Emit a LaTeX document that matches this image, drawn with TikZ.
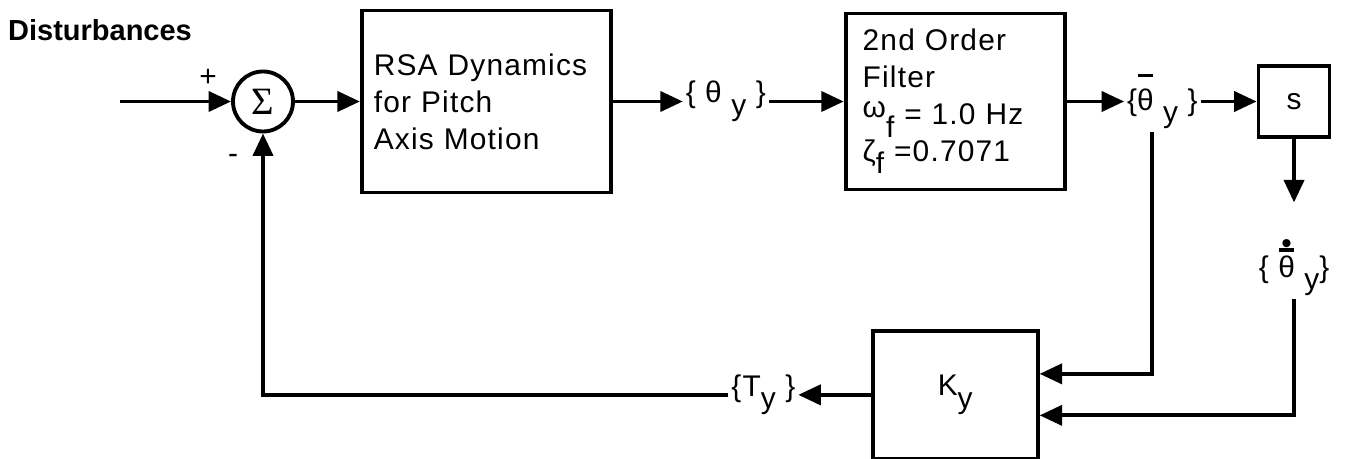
\documentclass[tikz,border=0pt]{standalone}
\usepackage{fontspec}
\setmainfont{Liberation Sans}
\newfontfamily\boxfont{Liberation Sans}[LetterSpace=4]
\newfontfamily\sigmafont{Liberation Serif}
\usepackage{tikz}
\usetikzlibrary{positioning,arrows.meta}
\newcommand{\dfont}{\boxfont\fontsize{17}{21}\selectfont}
\newcommand{\lowered}[1]{\raisebox{-0.42em}{#1}}
\newcommand{\thbar}{\rlap{\hspace{0.04em}\rule[1.1em]{0.5em}{0.11em}}θ}
\newcommand{\thdot}{\rlap{\hspace{0.04em}\rule[0.86em]{0.5em}{0.11em}}\rlap{\hspace{0.1em}\raisebox{0.8em}{\textbullet}}θ}

\begin{document}
\begin{tikzpicture}[
    block/.style={rectangle, draw=black, line width=2.2pt, align=left, font=\dfont},
    lbl/.style={inner sep=1.5pt, font=\dfont},
    sumnode/.style={circle, draw=black, line width=2.2pt, minimum size=1.2cm,
                    inner sep=0pt, font=\sigmafont\fontsize{22}{26}\selectfont},
    arrow/.style={-{Triangle[length=4.5mm, width=4mm]}, line width=2.2pt}
]
    \useasboundingbox (0,0) rectangle (27.12,9.18);

    \node[font=\bfseries\fontsize{16.5}{19}\selectfont] (dist) at (2.0,8.58) {Disturbances};
    \coordinate (in) at (2.4,7.15);
    \node[sumnode] (sum) at (5.26,7.15) {Σ};
    \node[lbl] (plus) at (4.16,7.63) {+};
    \node[lbl] (minus) at (4.66,6.01) {-};

    \node[block, right=1.3cm of sum, minimum width=4.98cm, minimum height=3.64cm,
          text width=4.5cm] (rsa) {RSA Dynamics\\for Pitch\\Axis Motion};
    \node[lbl, right=1.4cm of rsa] (theta) {\{ θ \lowered{y} \}};
    \node[block, right=1.5cm of theta, minimum width=4.38cm, minimum height=3.52cm,
          text width=3.7cm] (filter) {2nd Order\\Filter\\\raisebox{0.25em}{ω}\lowered{f} = 1.0 Hz\\ζ\lowered{f} =0.7071};
    \node[lbl, right=1.15cm of filter] (thetabar) {\{\thbar\ \lowered{y} \}};
    \node[block, align=center, right=1.12cm of thetabar, minimum size=1.42cm,
          inner sep=0pt] (sbox) {s};
    \node[lbl, below=1.95cm of sbox] (thetadot) {\{ \thdot\ \lowered{y}\}};

    \node[block, align=center, below=2.75cm of filter, minimum width=3.3cm,
          minimum height=2.56cm] (kbox) {K\lowered{y}};
    \node[lbl, left=1.45cm of kbox] (ty) {\{T\lowered{y} \}};

    \draw[arrow] (in) -- (sum);
    \draw[arrow] (sum) -- (rsa);
    \draw[arrow] (rsa) -- (theta);
    \draw[arrow] (theta) -- (filter);
    \draw[arrow] (filter) -- (thetabar);
    \draw[arrow] (thetabar) -- (sbox);
    \draw[arrow, shorten >=0.68cm] (sbox) -- (thetadot);

    \draw[arrow] ([xshift=-0.2cm]thetabar.south) |- ([yshift=0.42cm]kbox.east);
    \draw[arrow] (thetadot) |- ([yshift=-0.41cm]kbox.east);
    \draw[arrow] (kbox) -- (ty);
    \draw[arrow] (ty) -| (sum);
\end{tikzpicture}
\end{document}
